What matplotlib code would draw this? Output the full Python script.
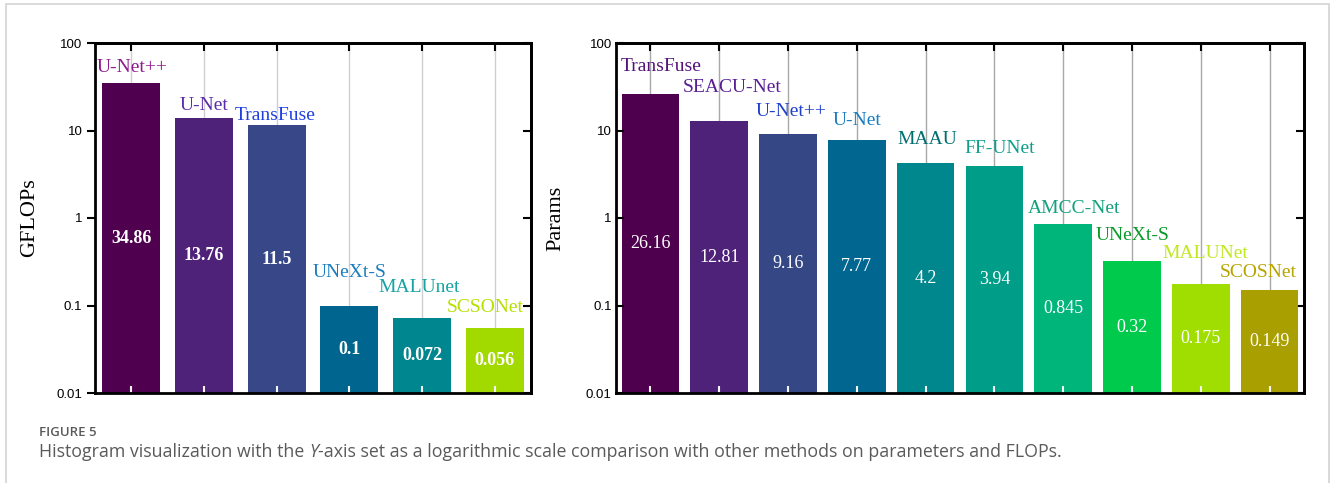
import numpy as np
import matplotlib
matplotlib.use("Agg")
import matplotlib.pyplot as plt
from matplotlib.patches import Rectangle
from matplotlib.ticker import FixedLocator, FuncFormatter, NullLocator

# ---------------- data ----------------
flops_models = ["U-Net++", "U-Net", "TransFuse", "UNeXt-S", "MALUnet", "SCSONet"]
flops_values = [34.86, 13.76, 11.5, 0.1, 0.072, 0.056]
flops_value_text = ["34.86", "13.76", "11.5", "0.1", "0.072", "0.056"]

params_models = ["TransFuse", "SEACU-Net", "U-Net++", "U-Net", "MAAU", "FF-UNet",
                 "AMCC-Net", "UNeXt-S", "MALUNet", "SCOSNet"]
params_values = [26.16, 12.81, 9.16, 7.77, 4.2, 3.94, 0.845, 0.32, 0.175, 0.149]
params_value_text = ["26.16", "12.81", "9.16", "7.77", "4.2", "3.94", "0.845",
                     "0.32", "0.175", "0.149"]

ytick_values = [0.01, 0.1, 1, 10, 100]
ytick_labels = ["0.01", "0.1", "1", "10", "100"]

# ---------------- style ----------------
flops_bar_colors = ["#4f004f", "#4f2279", "#374788", "#00658f", "#00868e", "#a2da00"]
flops_text_colors = ["#8e1b8e", "#5b2ca8", "#1f3fe0", "#1a7dc0", "#16a3a3", "#b5e000"]
# label offsets (pixels): dx, dy of label centre from bar top centre
flops_offsets = [(1, 16), (0, 12.5), (-2, 10), (0, 33), (-3, 30), (-9, 20.5)]

params_bar_colors = ["#4e004f", "#4e2279", "#364786", "#016690", "#00868d", "#009e89",
                     "#00b57a", "#00ca4c", "#a0dd00", "#a99f00"]
params_text_colors = ["#56127a", "#5a1f96", "#1f3fc8", "#1a7dc0", "#006e6e", "#109e8c",
                      "#13a07c", "#0a9a2a", "#bfe820", "#b8a400"]
params_offsets = [(11, 27), (13, 33.7), (3, 22), (0, 19.4), (2, 24), (5, 17.6),
                  (11, 16), (1, 26), (5, 31), (-11, 17.6)]

SERIF = ["Liberation Serif", "DejaVu Serif"]
SANS = ["Liberation Sans", "DejaVu Sans"]

W, H = 1330, 483
fig = plt.figure(figsize=(W / 100, H / 100), dpi=100)
fig.patch.set_facecolor("white")

PX = 0.72  # points per pixel at dpi=100


def make_panel(rect, models, values, vtext, bar_colors, text_colors, offsets,
               ylabel, ylabel_x, width, grid_color, value_bold, left_out):
    ax = fig.add_axes(rect)
    x = np.arange(len(models))
    ax.set_yscale("log")
    ax.set_xlim(-0.5, len(models) - 0.5)
    for xi in x:
        ax.axvline(xi, color=grid_color, lw=1.0, zorder=0)
    ax.bar(x, values, width=width, color=bar_colors, zorder=1)
    ax.set_ylim(0.01, 100)
    ymin = ax.get_ylim()[0]
    for xi, v, t, m, tc, (dx, dy) in zip(x, values, vtext, models, text_colors, offsets):
        ax.text(xi, np.sqrt(ymin * v), t, color="white", ha="center", va="center",
                fontsize=13, family=SERIF,
                fontweight="bold" if value_bold else "normal", zorder=3)
        ax.annotate(m, xy=(xi, v), xytext=(dx * PX, dy * PX), textcoords="offset points",
                    ha="center", va="center", color=tc, fontsize=14, family=SERIF,
                    zorder=3)
    # y axis
    ax.yaxis.set_major_locator(FixedLocator(ytick_values))
    ax.yaxis.set_major_formatter(FuncFormatter(
        lambda v, p: dict(zip(ytick_values, ytick_labels)).get(v, "")))
    ax.yaxis.set_minor_locator(NullLocator())
    ax.tick_params(axis="y", which="major", direction="out" if left_out else "in",
                   length=6, width=1.5, color="black", labelsize=9.5, pad=3,
                   left=True, right=False)
    for lab in ax.get_yticklabels():
        lab.set_family(SANS)
    sec_y = ax.secondary_yaxis("right")
    sec_y.yaxis.set_major_locator(FixedLocator(ytick_values))
    sec_y.yaxis.set_minor_locator(NullLocator())
    sec_y.tick_params(axis="y", direction="in", length=6, width=1.5, labelright=False)
    sec_y.spines["right"].set_linewidth(2)
    # x axis
    ax.set_xticks(x)
    ax.set_xticklabels([])
    ax.tick_params(axis="x", direction="in", length=5, width=1.5, color="#f4f4f4",
                   bottom=True, top=False)
    sec_x = ax.secondary_xaxis("top")
    sec_x.set_xticks(x)
    sec_x.set_xticklabels([])
    sec_x.tick_params(axis="x", direction="in", length=6, width=1.5, color="black")
    sec_x.spines["top"].set_linewidth(2)
    for s in ax.spines.values():
        s.set_linewidth(2)
        s.set_zorder(4)
    ax.set_ylabel(ylabel, fontsize=16, family=SERIF)
    ax.yaxis.set_label_coords(ylabel_x, 0.5)
    return ax


ax_bottom = (H - 393) / H
ax_h = 350 / H
make_panel([95 / W, ax_bottom, 436 / W, ax_h], flops_models, flops_values, flops_value_text,
           flops_bar_colors, flops_text_colors, flops_offsets, "GFLOPs",
           (39 - 95) / 436, 0.8, "#cfcfcf", True, True)
make_panel([616 / W, ax_bottom, 688 / W, ax_h], params_models, params_values,
           params_value_text, params_bar_colors, params_text_colors, params_offsets,
           "Params", (565 - 616) / 688, 0.84, "#a8a8a8", False, False)

# frame border
fig.add_artist(Rectangle((6 / W, -0.05), (1329 - 6) / W, 1.05 - 4 / H,
                         transform=fig.transFigure, fill=False, edgecolor="#d3d3d3",
                         lw=1.2))

# caption
CAP = ["Open Sans", "DejaVu Sans"]
CAP_SIZE = 12.8
fig.text(39 / W, 1 - 432 / H, "FIGURE 5", fontsize=9.5, family=CAP, fontweight="semibold",
         color="#5a5a5a", va="center", ha="left")
t1 = fig.text(39 / W, 1 - 457 / H, "Histogram visualization with the ", fontsize=CAP_SIZE,
              family=CAP, color="#5a5a5a", va="baseline", ha="left")
a2 = fig.add_artist(plt.Annotation("Y", xy=(1, 0), xycoords=t1, va="bottom", ha="left",
                                   fontsize=CAP_SIZE, family=CAP, style="italic",
                                   color="#5a5a5a"))
fig.add_artist(plt.Annotation("-axis set as a logarithmic scale comparison with other "
                              "methods on parameters and FLOPs.", xy=(1, 0), xycoords=a2,
                              va="bottom", ha="left", fontsize=CAP_SIZE, family=CAP,
                              color="#5a5a5a"))

fig.savefig("out.png", dpi=100)
